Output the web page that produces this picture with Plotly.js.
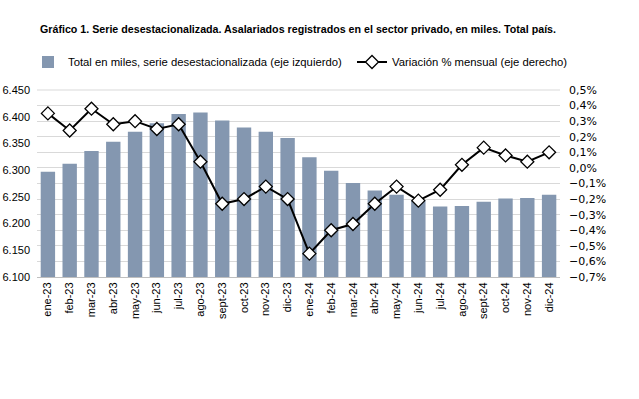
<!DOCTYPE html>
<html>
<head>
<meta charset="utf-8">
<script src="https://cdn.plot.ly/plotly-3.0.1.min.js"></script>
<style>html,body{margin:0;padding:0;background:#fff;}#chart{width:639px;height:399px;}</style>
</head>
<body>
<div id="chart"></div>
<script>
const months = ["ene-23","feb-23","mar-23","abr-23","may-23","jun-23","jul-23","ago-23","sept-23","oct-23","nov-23","dic-23",
                "ene-24","feb-24","mar-24","abr-24","may-24","jun-24","jul-24","ago-24","sept-24","oct-24","nov-24","dic-24"];
const totalMiles = [6297,6312,6336,6353,6372,6388,6405,6408,6393,6380,6372,6360,
                    6324,6299,6276,6262,6254,6243,6232,6233,6241,6247,6248,6254];
const variacionPct = [0.35,0.24,0.38,0.28,0.30,0.25,0.28,0.04,-0.23,-0.20,-0.12,-0.20,
                      -0.55,-0.40,-0.36,-0.23,-0.12,-0.21,-0.14,0.02,0.13,0.08,0.04,0.10];
const barName = "Total en miles, serie desestacionalizada (eje izquierdo)";
const lineName = "Variación % mensual (eje derecho)";

const sans = "'Liberation Sans', Arial, sans-serif";
const traces = [
  {type:"bar", x:months, y:totalMiles, name:barName, marker:{color:"#8497b0"}, yaxis:"y", legend:"legend", hoverinfo:"skip"},
  {type:"scatter", mode:"lines+markers", x:months, y:variacionPct, name:lineName, yaxis:"y2", legend:"legend2",
   line:{color:"#000000", width:2}, marker:{symbol:"diamond", size:10, color:"#ffffff", line:{color:"#000000", width:1.3}}}
];
const legendBase = {orientation:"h", xref:"container", xanchor:"left", yref:"container", yanchor:"middle", y:1-62/399,
                    font:{family:sans, size:11.3, color:"#000000"}, itemwidth:30, bgcolor:"rgba(0,0,0,0)"};
const layout = {
  width:639, height:399,
  paper_bgcolor:"#ffffff", plot_bgcolor:"#ffffff",
  separators:",.",
  margin:{l:37, r:79, t:90, b:122, autoexpand:false},
  bargap:0.34,
  title:{text:"<b>Gráfico 1. Serie desestacionalizada. Asalariados registrados en el sector privado, en miles. Total país.</b>",
         xref:"container", yref:"container", x:40/639, xanchor:"left", y:1-29/399, yanchor:"middle",
         font:{family:sans, size:11, color:"#000000"}},
  showlegend:true,
  legend:Object.assign({}, legendBase, {x:28/639}),
  legend2:Object.assign({}, legendBase, {x:352/639}),
  xaxis:{type:"category", range:[-0.5, months.length-0.5], showgrid:false, showline:true, linecolor:"#bfbfbf", linewidth:1,
         ticks:"", automargin:false, tickangle:-90, tickfont:{family:sans, size:11, color:"#000000"}},
  yaxis:{range:[6100,6450], dtick:50, tick0:6100, tickformat:",", showgrid:false, zeroline:false, automargin:false,
         ticks:"", ticklabelstandoff:6,
         tickfont:{family:sans, size:11, color:"#000000"},
         minor:{tick0:6100, dtick:350/12, showgrid:true, gridcolor:"#d9d9d9", gridwidth:1, ticks:""}},
  yaxis2:{overlaying:"y", side:"right", range:[-0.7,0.5], dtick:0.1, tick0:0, tickformat:".1f", ticksuffix:"%",
          showgrid:false, zeroline:false, automargin:false, ticks:"", ticklabelstandoff:8,
          tickfont:{family:"'DejaVu Sans', Verdana, sans-serif", size:11, color:"#000000"}},
  shapes:[{type:"line", xref:"paper", yref:"paper", x0:0, x1:1, y0:1, y1:1, layer:"below", line:{color:"#d9d9d9", width:1}}],
  annotations:[{text:"<b>Fuente:</b> Politikon Chaco en base a Secretaría de Trabajo, Empleo y Seguridad Social de la Nación",
                xref:"container", yref:"container", x:86/639, xanchor:"left", y:1-368/399, yanchor:"middle",
                showarrow:false, font:{family:sans, size:10, color:"#000000"}}]
};
Plotly.newPlot("chart", traces, layout, {staticPlot:true, displayModeBar:false}).then(function(gd){
  const t = gd.querySelector(".gtitle");
  if (t) { t.setAttribute("textLength", "516"); t.setAttribute("lengthAdjust", "spacingAndGlyphs"); }
  const a = gd.querySelector(".annotation-text");
  if (a) { a.setAttribute("textLength", "426"); a.setAttribute("lengthAdjust", "spacingAndGlyphs"); }
});
</script>
</body>
</html>
